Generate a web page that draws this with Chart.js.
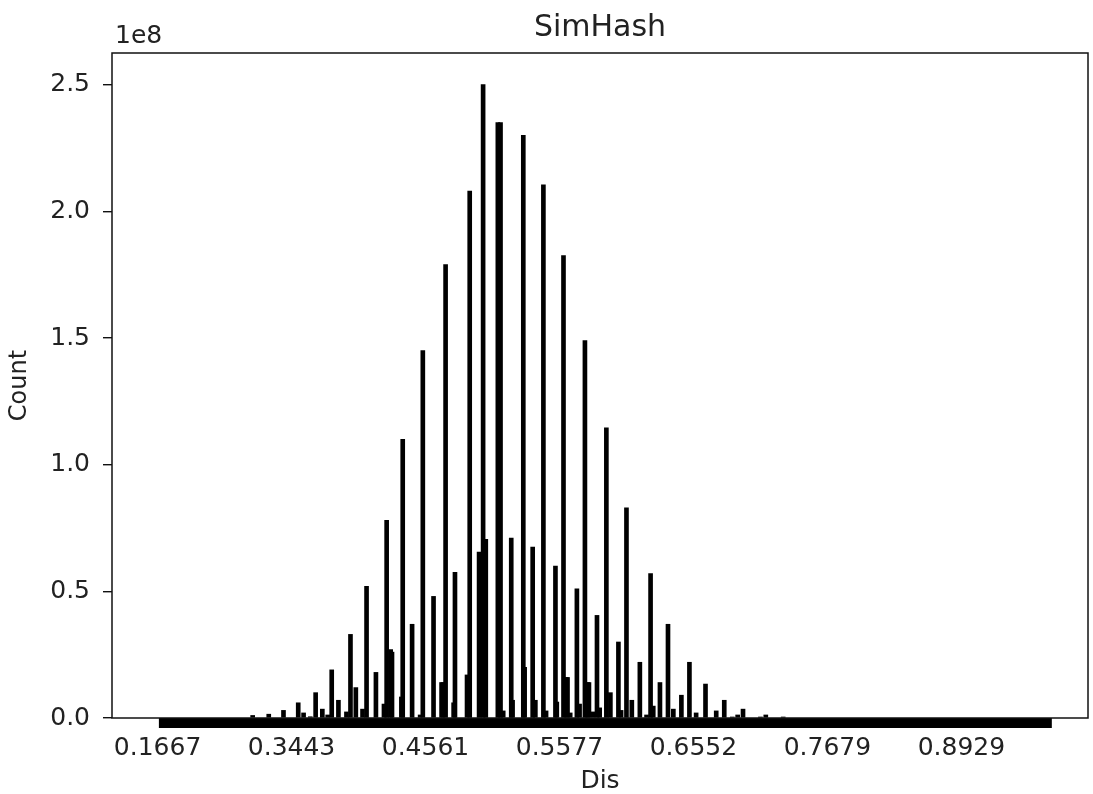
<!DOCTYPE html>
<html>
<head>
<meta charset="utf-8">
<script src="https://cdn.jsdelivr.net/npm/chart.js@4.4.1/dist/chart.umd.min.js"></script>
<style>
  html, body { margin: 0; padding: 0; background: #fff; }
  canvas { display: block; }
</style>
</head>
<body>
<canvas id="chart" width="1093" height="794"></canvas>
<script>
// bins along the Dis axis (bin index) and their counts, in units of 1e8
const binIndex = [
  71, 83, 94, 105, 109, 114, 118, 123, 127, 130,
  135, 141, 144, 148, 153, 156, 163, 169, 171, 174,
  175, 182, 183, 190, 196, 198, 206, 212, 213, 215,
  221, 222, 231, 233, 240, 243, 245, 254, 256, 258,
  264, 265, 273, 274, 280, 282, 288, 290, 297, 298,
  303, 305, 306, 308, 313, 315, 319, 321, 322, 325,
  328, 330, 335, 338, 344, 346, 350, 354, 360, 365,
  368, 370, 375, 381, 385, 391, 397, 402, 409, 417,
  423, 429, 433, 437, 450, 454, 467
];
const countE8 = [
  0.01, 0.015, 0.03, 0.06, 0.02, 0.005, 0.10, 0.035, 0.012, 0.19,
  0.07, 0.024, 0.33, 0.12, 0.035, 0.52, 0.18, 0.055, 0.78, 0.27,
  0.26, 0.083, 1.10, 0.37, 0.012, 1.45, 0.48, 0.14, 0.14, 1.79,
  0.06, 0.575, 0.17, 2.08, 0.655, 2.50, 0.705, 2.35, 2.35, 0.028,
  0.71, 0.07, 2.30, 0.20, 0.675, 0.07, 2.105, 0.028, 0.60, 0.063,
  1.825, 0.16, 0.16, 0.02, 0.51, 0.055, 1.49, 0.14, 0.14, 0.024,
  0.405, 0.04, 1.145, 0.10, 0.30, 0.03, 0.83, 0.07, 0.22, 0.012,
  0.57, 0.047, 0.14, 0.37, 0.035, 0.09, 0.22, 0.02, 0.134, 0.028,
  0.07, 0.004, 0.012, 0.035, 0.004, 0.012, 0.004
];
// first and last bin of the histogram (the dense run of tiny bars)
const binRange = [1, 667.5];

const tickIndex = [0, 100, 200, 300, 400, 500, 600];
const tickLabels = ['0.1667', '0.3443', '0.4561', '0.5577', '0.6552', '0.7679', '0.8929'];
const yTicks = [0, 0.5, 1.0, 1.5, 2.0, 2.5];

Chart.defaults.font.family = '"DejaVu Sans", sans-serif';
Chart.defaults.color = '#222';

const bars = binIndex.map((b, i) => ({ x: b, y: countE8[i] * 1e8 }));
const base = binRange.map(b => ({ x: b, y: -0.02e8 }));

const frame = {
  id: 'frame',
  afterDatasetsDraw(chart) {
    const { ctx, chartArea: a } = chart;
    ctx.save();
    ctx.strokeStyle = '#111';
    ctx.lineWidth = 1.5;
    ctx.strokeRect(a.left, a.top, a.right - a.left, a.bottom - a.top);
    ctx.fillStyle = '#222';
    ctx.font = '25px "DejaVu Sans"';
    ctx.textBaseline = 'alphabetic';
    ctx.fillText('1e8', a.left + 3, a.top - 10);
    ctx.restore();
  }
};

new Chart(document.getElementById('chart'), {
  type: 'bar',
  data: {
    datasets: [{
      type: 'bar',
      data: bars,
      backgroundColor: '#000',
      borderWidth: 0,
      barThickness: 4,
      order: 2
    }, {
      type: 'line',
      data: base,
      borderColor: '#000',
      borderWidth: 10,
      borderCapStyle: 'butt',
      pointRadius: 0,
      clip: false,
      order: 1
    }]
  },
  options: {
    responsive: false,
    animation: false,
    layout: { padding: { left: 0, right: 5, top: 0, bottom: 0 } },
    plugins: {
      legend: { display: false },
      tooltip: { enabled: false },
      title: {
        display: true,
        text: 'SimHash',
        fullSize: false,
        font: { size: 30, weight: 'normal' },
        color: '#222',
        padding: { top: 10, bottom: 7 }
      }
    },
    scales: {
      x: {
        type: 'linear',
        min: -34,
        max: 694.5,
        offset: false,
        afterBuildTicks: s => { s.ticks = tickIndex.map(v => ({ value: v })); },
        afterFit: s => { s.height = 76; },
        ticks: {
          font: { size: 25 },
          color: '#222',
          padding: 6,
          maxRotation: 0,
          autoSkip: false,
          callback: v => tickLabels[tickIndex.indexOf(v)]
        },
        grid: { display: false, tickLength: 9 },
        border: { display: false },
        title: { display: true, text: 'Dis', font: { size: 25, lineHeight: 1 }, color: '#222', padding: { top: 0, bottom: 0 } }
      },
      y: {
        min: 0,
        max: 2.625e8,
        afterBuildTicks: s => { s.ticks = yTicks.map(v => ({ value: v * 1e8 })); },
        afterFit: s => { s.width = 112; },
        ticks: {
          font: { size: 25 },
          color: '#222',
          padding: 13,
          callback: v => (v / 1e8).toFixed(1)
        },
        grid: { display: true, drawOnChartArea: false, tickLength: 9, color: '#111', lineWidth: 1.4 },
        border: { display: false },
        title: { display: true, text: 'Count', font: { size: 24, lineHeight: 1 }, color: '#222', padding: { top: 8, bottom: 0 } }
      }
    }
  },
  plugins: [frame]
});
</script>
</body>
</html>
